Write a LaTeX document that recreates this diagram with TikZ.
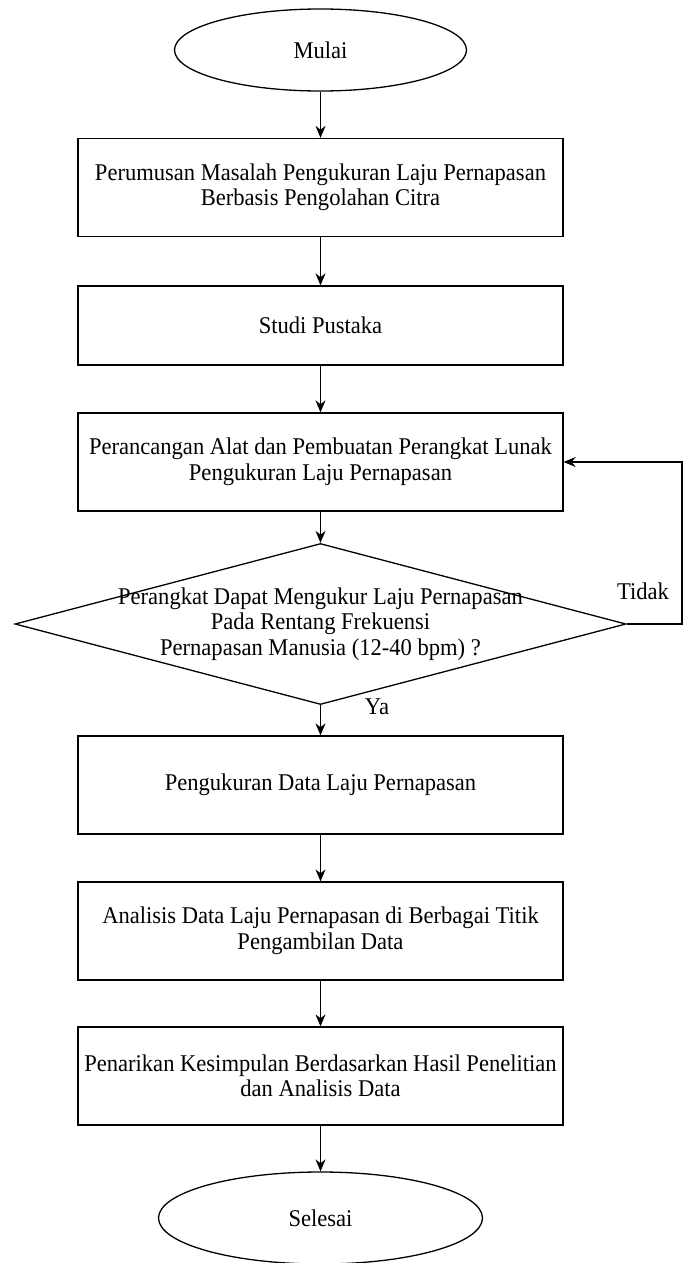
\documentclass[tikz,border=0pt]{standalone}
\usepackage{fontspec}
\setmainfont{Liberation Serif}[FakeStretch=0.94]
\usetikzlibrary{shapes.geometric,arrows.meta}
\begin{document}
\begin{tikzpicture}[x=1pt,y=-1pt,font=\fontsize{24}{25.5}\selectfont,
  terminal/.style={ellipse,draw,line width=1.3pt,inner sep=0pt},
  process/.style={rectangle,draw,line width=1.3pt,minimum width=485pt,minimum height=98pt,align=center,inner sep=0pt},
  decision/.style={diamond,draw,line width=1.3pt,minimum width=611pt,minimum height=161pt,inner sep=0pt},
  flow/.style={-{Stealth[length=12pt,width=10pt]},line width=1.2pt}]

\useasboundingbox (0,0) rectangle (683,1263);

\node[terminal,minimum width=292pt,minimum height=82pt] (mulai) at (320.5,50) {Mulai};
\node[process] (rumus) at (320.5,187.5) {Perumusan Masalah Pengukuran Laju Pernapasan\\Berbasis Pengolahan Citra};
\node[process,minimum height=79pt] (studi) at (320.5,325.5) {Studi Pustaka};
\node[process] (rancang) at (320.5,462) {Perancangan Alat dan Pembuatan Perangkat Lunak\\Pengukuran Laju Pernapasan};
\node[decision] (cek) at (320.5,624) {};
\node[align=center] (cektext) at (cek.center) {Perangkat Dapat Mengukur Laju Pernapasan\\Pada Rentang Frekuensi\\Pernapasan Manusia (12-40 bpm) ?};
\node[process] (ukur) at (320.5,785) {Pengukuran Data Laju Pernapasan};
\node[process] (analisis) at (320.5,931) {Analisis Data Laju Pernapasan di Berbagai Titik\\Pengambilan Data};
\node[process] (simpul) at (320.5,1076) {Penarikan Kesimpulan Berdasarkan Hasil Penelitian\\dan Analisis Data};
\node[terminal,minimum width=324pt,minimum height=92pt] (selesai) at (320.5,1218) {Selesai};

\draw[flow] (mulai) -- (rumus);
\draw[flow] (rumus) -- (studi);
\draw[flow] (studi) -- (rancang);
\draw[flow] (rancang) -- (cek.north);
\draw[flow] (cek.south) -- (ukur);
\draw[flow] (ukur) -- (analisis);
\draw[flow] (analisis) -- (simpul);
\draw[flow] (simpul) -- (selesai);

% jalur kembali jika tidak
\coordinate (balik) at (682,624);
\draw[flow] (cek.east) -- (balik) |- (rancang.east);
\node (tidak) at (643,591) {Tidak};
\node (ya) at (377,707) {Ya};

\end{tikzpicture}
\end{document}
